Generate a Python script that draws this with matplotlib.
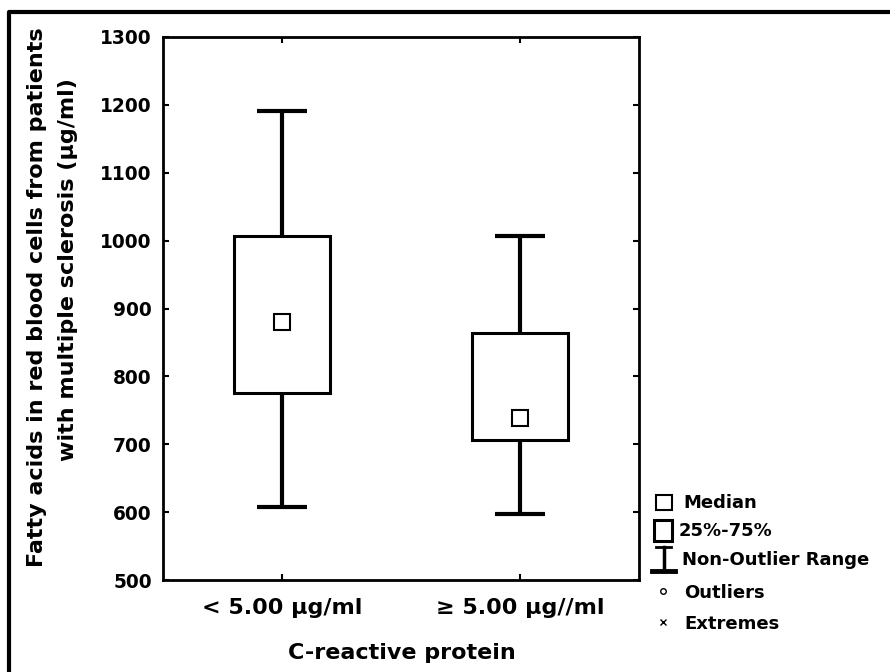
import matplotlib
matplotlib.use("Agg")
import matplotlib.pyplot as plt
from matplotlib.patches import Rectangle

# veriler
groups = ["< 5.00 \u00b5g/ml", "\u2265 5.00 \u00b5g//ml"]
medians = [880, 739]
q25 = [776, 706]
q75 = [1007, 864]
whisker_low = [607, 597]
whisker_high = [1191, 1007]
yticks = [500, 600, 700, 800, 900, 1000, 1100, 1200, 1300]
legend_labels = ["Median", "25%-75%", "Non-Outlier Range", "Outliers", "Extremes"]

FONT = ["DejaVu Sans"]
W, H = 890, 672

fig = plt.figure(figsize=(W / 100, H / 100), dpi=100)

# ana eksen (piksel koordinatlarindan)
left, right, top, bottom = 163, 639, 37, 580
ax = fig.add_axes([left / W, 1 - bottom / H, (right - left) / W, (bottom - top) / H])

pos = list(range(len(groups)))

# biyikler (kutunun arkasinda)
cap = 0.107
ax.vlines(pos, whisker_low, whisker_high, color="black", lw=3, zorder=1)
ax.hlines(whisker_high, [p - cap for p in pos], [p + cap for p in pos], color="black", lw=3, zorder=1)
ax.hlines(whisker_low, [p - cap for p in pos], [p + cap for p in pos], color="black", lw=3, zorder=1)

# kutular
heights = [b - a for a, b in zip(q25, q75)]
ax.bar(pos, heights, bottom=q25, width=0.4, color="white", edgecolor="black", lw=2.2, zorder=2)

# medyan karesi
ax.plot(pos, medians, ls="none", marker="s", ms=12, mfc="white", mec="black", mew=1.5, zorder=3)

ax.set_xlim(-0.5, 1.5)
ax.set_ylim(500, 1300)
ax.set_yticks(yticks)
ax.set_xticks(pos)
ax.set_xticklabels(groups)
for s in ax.spines.values():
    s.set_linewidth(2)
ax.tick_params(direction="in", length=4, width=1.5, top=True, right=True)
ax.tick_params(axis="y", pad=8)
ax.tick_params(axis="x", pad=13)
for lab in ax.get_yticklabels():
    lab.set_fontfamily(FONT)
    lab.set_fontweight("bold")
    lab.set_fontsize(13.4)
for lab in ax.get_xticklabels():
    lab.set_fontfamily(FONT)
    lab.set_fontweight("bold")
    lab.set_fontsize(16)

# eksen basliklari
fig.text(402 / W, 1 - 653 / H, "C-reactive protein", ha="center", va="center",
         family=FONT, fontweight="bold", fontsize=16)
fig.text(37 / W, 1 - 297 / H, "Fatty acids in red blood cells from patients",
         ha="center", va="center", rotation=90, family=FONT, fontweight="bold", fontsize=16)
fig.text(68 / W, 1 - 270 / H, "with multiple sclerosis (\u00b5g/ml)",
         ha="center", va="center", rotation=90, family=FONT, fontweight="bold", fontsize=16)

# dis cerceve ve lejant icin piksel ekseni
ov = fig.add_axes([0, 0, 1, 1], facecolor="none")
ov.set_xlim(0, W)
ov.set_ylim(H, 0)
ov.axis("off")
ov.plot([9, 9, W + 5], [H + 5, 12, 12], color="black", lw=3, solid_capstyle="butt")

# lejant sembolleri
ov.add_patch(Rectangle((656, 495), 16, 15, fill=False, ec="black", lw=1.5))
ov.add_patch(Rectangle((654, 520), 18, 21, fill=False, ec="black", lw=2.2))
ov.plot([663.5, 663.5], [547, 570], color="black", lw=2.5)
ov.plot([656, 671], [547, 547], color="black", lw=2)
ov.plot([652, 675], [571, 571], color="black", lw=3.5)
ov.plot([663], [591], marker="o", ms=4, mfc="white", mec="black", mew=1)
ov.plot([663], [622], marker="x", ms=4, color="black", mew=1)

leg_x = [683, 679, 682, 684, 684]
leg_y = [503, 531, 560, 593, 624]
for lx, ly, txt in zip(leg_x, leg_y, legend_labels):
    ov.text(lx, ly, txt, ha="left", va="center", family=FONT, fontweight="bold", fontsize=13)

fig.savefig("out.png", dpi=100)
